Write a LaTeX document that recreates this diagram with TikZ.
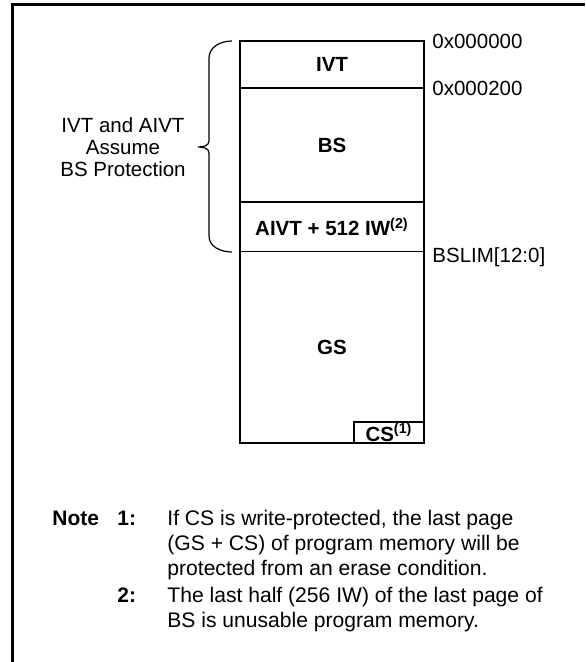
\documentclass[tikz,border=0pt]{standalone}
\usepackage{fontspec}
\setmainfont{Liberation Sans}
\usetikzlibrary{positioning}

\begin{document}
\begin{tikzpicture}[
  x=0.5pt, y=-0.5pt,
  every node/.style={font=\fontsize{10.25}{12.5}\selectfont},
  region/.style={
    minimum width=92pt,
    inner sep=0pt,
    outer sep=0pt,
    font=\fontsize{10.25}{12.5}\selectfont\bfseries
  },
  memline/.style={line width=1pt},
  addr/.style={anchor=west, inner sep=0pt},
  noteno/.style={anchor=base west, inner sep=0pt, font=\fontsize{10.5}{12.5}\selectfont\bfseries},
  notetext/.style={anchor=base west, inner sep=0pt, align=left, font=\fontsize{10.55}{12.5}\selectfont},
  frame/.style={line width=1.5pt}
]
  \useasboundingbox (0,0) rectangle (585,662);
  \draw[frame] (12,662) -- (12,5) -- (585,5);

  % memory map
  \node[region, minimum height=23.5pt] (ivt) at (332,64.5) {IVT};
  \node[region, minimum height=57pt, below=0pt of ivt] (bs) {BS};
  \node[region, minimum height=25pt, below=0pt of bs] (aivt)
    {AIVT + 512 IW\textsuperscript{(2)}};
  \node[region, minimum height=95.5pt, below=0pt of aivt] (gs) {GS};
  \draw[memline] (ivt.north west) rectangle (gs.south east);
  \draw[memline] (ivt.south west) -- (ivt.south east);
  \draw[memline] (bs.south west) -- (bs.south east);
  \draw[line width=0.5pt] (aivt.south west) -- (aivt.south east);
  \node[region, draw, line width=1pt, minimum width=35pt, minimum height=10.5pt,
    anchor=south east] (cs) at (gs.south east) {CS\textsuperscript{(1)}};

  % addresses
  \node[addr] (a0) at ([xshift=4pt]ivt.north east) {0x000000};
  \node[addr] (a1) at ([xshift=4pt]ivt.south east) {0x000200};
  \node[addr] (bslim) at ([xshift=4pt,yshift=-2.5pt]aivt.south east) {BSLIM[12:0]};

  % brace
  \coordinate (btop) at ([xshift=-4pt]ivt.north west);
  \coordinate (bbot) at ([xshift=-4pt]aivt.south west);
  \coordinate (btip) at (198,147);
  \draw[line width=0.6pt] (btop) to[out=180,in=90] (209,58) -- (209,141)
    to[out=-90,in=0] (btip) to[out=0,in=90] (209,153) -- (209,236)
    to[out=-90,in=180] (bbot);
  \node[align=center, font=\fontsize{10.25}{11}\selectfont] (protect) at (123,147)
    {IVT and AIVT\\Assume\\BS Protection};

  % notes (base = last line)
  \node[noteno] (notehd) at (52,525) {Note};
  \node[noteno] (n1) at (117,525) {1:};
  \node[notetext] (t1) at (167,575)
    {If CS is write-protected, the last page\\(GS + CS) of program memory will be\\protected from an erase condition.};
  \node[noteno] (n2) at (117,602) {2:};
  \node[notetext] (t2) at (167,627)
    {The last half (256 IW) of the last page of\\BS is unusable program memory.};
\end{tikzpicture}
\end{document}
